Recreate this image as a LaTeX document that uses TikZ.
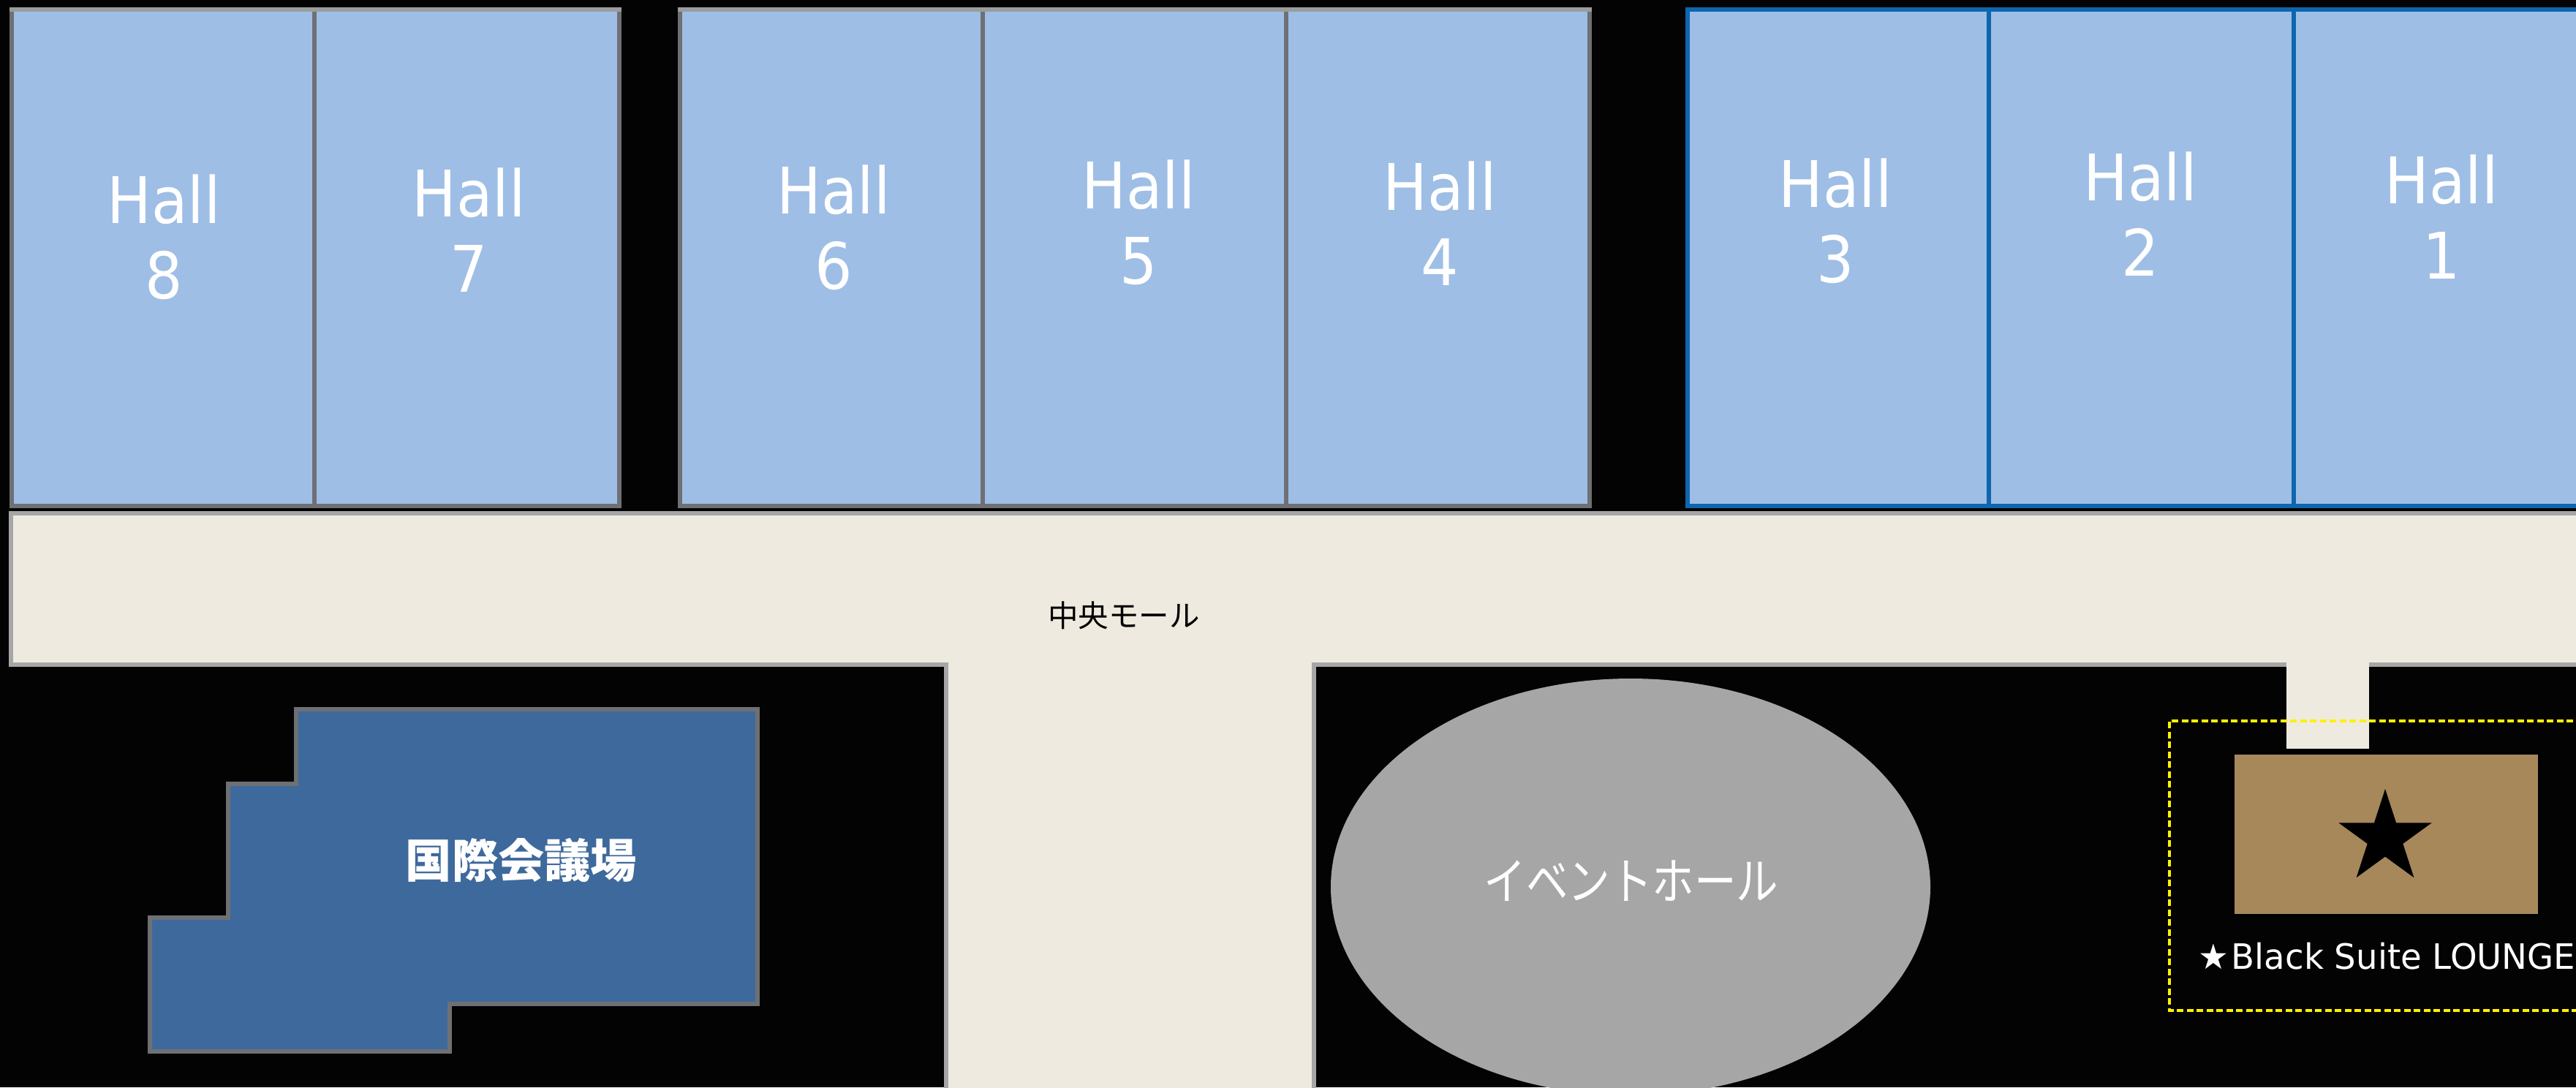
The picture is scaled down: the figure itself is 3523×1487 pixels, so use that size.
\documentclass[tikz,border=0pt]{standalone}
\usepackage{fontspec}
\setmainfont{DejaVu Sans}
\newfontfamily\hallfont[FakeStretch=0.92]{DejaVu Sans}
\newfontfamily\loungefont[FakeStretch=0.975]{DejaVu Sans}
\newfontfamily\cjkfont{Noto Sans CJK JP}
\newfontfamily\eventfont[FakeStretch=0.84]{Noto Sans CJK JP}
\usetikzlibrary{shapes.geometric}
\definecolor{hallfill}{HTML}{9EBEE5}
\definecolor{hallgray}{HTML}{6E7074}
\definecolor{halltop}{HTML}{9A9C9E}
\definecolor{hallblue}{HTML}{0E66AE}
\definecolor{mallfill}{HTML}{EEEADF}
\definecolor{wallgray}{HTML}{A6A6A6}
\definecolor{centerblue}{HTML}{3E699C}
\definecolor{loungefill}{HTML}{A7885B}
\definecolor{bgblack}{HTML}{040304}

\begin{document}
\begin{tikzpicture}[
    x=0.1mm, y=-0.1mm,
    hall/.style={fill=hallfill, draw=hallgray, line width=1.6pt},
    hallnew/.style={fill=hallfill, draw=hallblue, line width=1.6pt},
    hallbevel/.style={draw=halltop, line width=1.6pt},
    halltext/.style={text=white, align=center, font=\hallfont\fontsize{25}{29.3}\selectfont},
    mall/.style={fill=mallfill, draw=wallgray, line width=1.7pt}
]
\fill[bgblack] (0,0) rectangle (3523,1487);
\clip (0,0) rectangle (3523,1487);

% mall
\draw[mall] (15,702) -- (3560,702) -- (3560,909) -- (1797,909) -- (1797,1520) -- (1294,1520) -- (1294,909) -- (15,909) -- cycle;
\fill[mallfill] (3127,905) rectangle (3240,1024);
\node[font=\cjkfont\fontsize{11.8}{14}\selectfont] (mallname) at (1537,842) {中央モール};

% halls
\draw[hall] (16,13) rectangle (430,692);
\draw[hall] (430,13) rectangle (847,692);
\draw[hall] (930,13) rectangle (1344,692);
\draw[hall] (1344,13) rectangle (1759,692);
\draw[hall] (1759,13) rectangle (2174,692);
\draw[hallnew] (2308,13) rectangle (2720,692);
\draw[hallnew] (2720,13) rectangle (3137,692);
\draw[hallnew] (3137,13) rectangle (3560,692);
\draw[hallbevel] (13,13) -- (850,13);
\draw[hallbevel] (927,13) -- (2177,13);
\node[halltext] (hall8) at (224,324) {Hall\\8};
\node[halltext] (hall7) at (641,315) {Hall\\7};
\node[halltext] (hall6) at (1140,311) {Hall\\6};
\node[halltext] (hall5) at (1557,304) {Hall\\5};
\node[halltext] (hall4) at (1969,306) {Hall\\4};
\node[halltext] (hall3) at (2510,302) {Hall\\3};
\node[halltext] (hall2) at (2927,293) {Hall\\2};
\node[halltext] (hall1) at (3339,297) {Hall\\1};

% conference center
\draw[fill=centerblue, draw=hallgray, line width=1.6pt] (405,970) -- (1036,970) -- (1036,1373) -- (615,1373) -- (615,1438) -- (205,1438) -- (205,1255) -- (312,1255) -- (312,1072) -- (405,1072) -- cycle;
\node[text=white, font=\cjkfont\bfseries\fontsize{18}{20}\selectfont] (center) at (713,1177) {国際会議場};

% event hall
\fill[wallgray] (2230,1213) ellipse [x radius=410, y radius=285];
\node[text=white, font=\eventfont\fontsize{19.5}{22}\selectfont] (eventhall) at (2231,1205) {イベントホール};

% lounge
\draw[yellow, line width=0.9pt, dash pattern=on 9*0.2845pt off 4.5*0.2845pt] (3600,986) -- (2967,986) -- (2967,1382) -- (3600,1382);
\draw[fill=loungefill, draw=black, line width=1.2pt] (3054,1030) rectangle (3473,1252);
\node[star, star points=5, star point ratio=2.618, fill=black, minimum size=13.4mm, inner sep=0pt] (loungestar) at (3262,1146) {};
\node[text=white, anchor=base west, inner sep=0pt, font=\loungefont\fontsize{13.6}{16}\selectfont] (loungename) at (3006,1325) {★\kern1pt Black Suite LOUNGE};
\end{tikzpicture}
\end{document}
